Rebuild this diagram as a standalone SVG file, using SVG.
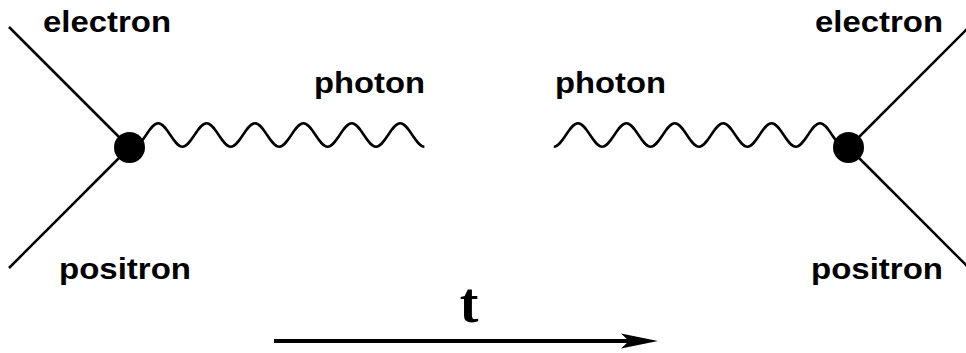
<svg xmlns="http://www.w3.org/2000/svg" width="966" height="353" viewBox="0 0 966 353">
  <style>
    .lbl { font-family: "Liberation Sans", Arial, sans-serif; font-weight: bold; font-size: 29.5px; fill: #000; }
    .t { font-family: "Liberation Serif", "Times New Roman", serif; font-weight: bold; font-size: 56px; fill: #000; }
    .fermion { stroke: #000; stroke-width: 2.5; fill: none; }
    .photon { stroke: #000; stroke-width: 2.5; fill: none; stroke-linecap: butt; }
    .vertex { fill: #000; }
  </style>
  <rect width="966" height="353" fill="#fff"/>
  <g id="connectors">
    <line class="fermion" x1="9" y1="27" x2="129.5" y2="147.5"/>
    <line class="fermion" x1="129.5" y1="147.5" x2="9" y2="268"/>
    <line class="fermion" x1="848.5" y1="147.5" x2="969" y2="27"/>
    <line class="fermion" x1="848.5" y1="147.5" x2="969" y2="268"/>
    <path class="photon" d="M134,146.7 c8.7,0 15.5,-23.4 24.2,-23.4 s15.5,23.4 24.2,23.4 s15.5,-23.4 24.2,-23.4 s15.5,23.4 24.2,23.4 s15.5,-23.4 24.2,-23.4 s15.5,23.4 24.2,23.4 s15.5,-23.4 24.2,-23.4 s15.5,23.4 24.2,23.4 s15.5,-23.4 24.2,-23.4 s15.5,23.4 24.2,23.4 s15.5,-23.4 24.2,-23.4 s15.5,23.4 24.2,23.4"/>
    <path class="photon" d="M553.8,146.7 c8.7,0 15.5,-23.4 24.2,-23.4 s15.5,23.4 24.2,23.4 s15.5,-23.4 24.2,-23.4 s15.5,23.4 24.2,23.4 s15.5,-23.4 24.2,-23.4 s15.5,23.4 24.2,23.4 s15.5,-23.4 24.2,-23.4 s15.5,23.4 24.2,23.4 s15.5,-23.4 24.2,-23.4 s15.5,23.4 24.2,23.4 s15.5,-23.4 24.2,-23.4 s15.5,23.4 24.2,23.4"/>
    <g id="time-arrow">
      <line x1="274" y1="341" x2="630" y2="341" stroke="#000" stroke-width="4"/>
      <path d="M658,341 L621,333.5 L629,341 L621,348.5 Z" fill="#000"/>
    </g>
  </g>
  <g id="vertex-left"><circle class="vertex" cx="129.5" cy="147.5" r="15.5"/></g>
  <g id="vertex-right"><circle class="vertex" cx="848.5" cy="147.5" r="15.5"/></g>
  <g id="label-electron-left"><text class="lbl" x="43" y="32" textLength="128" lengthAdjust="spacingAndGlyphs">electron</text></g>
  <g id="label-photon-left"><text class="lbl" x="314" y="93" textLength="111" lengthAdjust="spacingAndGlyphs">photon</text></g>
  <g id="label-positron-left"><text class="lbl" x="59" y="279" textLength="132" lengthAdjust="spacingAndGlyphs">positron</text></g>
  <g id="label-photon-right"><text class="lbl" x="555" y="93" textLength="111" lengthAdjust="spacingAndGlyphs">photon</text></g>
  <g id="label-electron-right"><text class="lbl" x="815" y="32" textLength="128" lengthAdjust="spacingAndGlyphs">electron</text></g>
  <g id="label-positron-right"><text class="lbl" x="811" y="279" textLength="132" lengthAdjust="spacingAndGlyphs">positron</text></g>
  <g id="label-t"><text class="t" x="469" y="322" text-anchor="middle">t</text></g>
</svg>
